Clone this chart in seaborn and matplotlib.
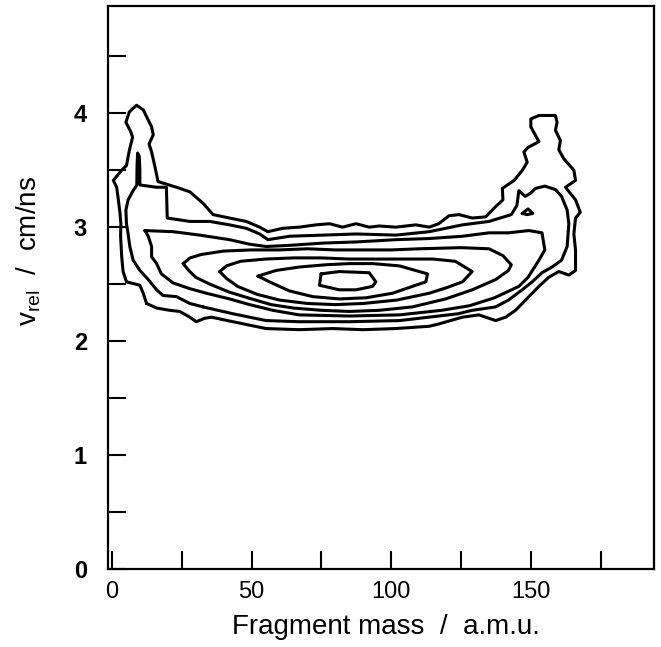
import matplotlib
matplotlib.use("Agg")
import matplotlib.pyplot as plt
import seaborn as sns
import pandas as pd
from matplotlib.ticker import MultipleLocator

# ---- contour lines (x = fragment mass / a.m.u., y = v_rel / cm/ns) ----
level1 = [(12.4,2.33),(11.2,2.42),(10,2.49),(5.2,2.52),(4,2.61),(3.5,2.74),(3.1,2.92),(3.2,3.03),
          (2.9,3.12),(2.3,3.24),(1.7,3.35),(0.5,3.41),(3.5,3.50),(5.2,3.54),(5.8,3.62),(6.4,3.69),
          (7.4,3.79),(6.7,3.84),(5,3.92),(6.2,4.01),(8.8,4.07),(11.2,4.03),(13,3.94),(14.2,3.88),
          (14.8,3.81),(13.3,3.73),(14.2,3.66),(15.4,3.53),(16.5,3.40),(23.1,3.35),(27.9,3.31),
          (32.6,3.21),(36.2,3.11),(42.1,3.08),(48.1,3.05),(52.9,3.00),(55.8,2.96),(61.2,2.99),
          (67.1,3.00),(73.1,3.02),(77.9,3.03),(82.6,3.00),(87.4,3.03),(92.1,3.00),(95.7,3.01),
          (101.7,3.00),(108.8,3.02),(113.6,3.00),(117,3.03),(120.7,3.10),(124.3,3.11),(129,3.08),
          (133.8,3.09),(137.4,3.18),(140,3.24),(139.8,3.34),(144,3.41),(147,3.50),(148.7,3.57),
          (147.5,3.66),(149,3.70),(152.9,3.75),(150,3.88),(150,3.95),(152.9,3.98),(158.8,3.98),
          (159.4,3.92),(158.8,3.85),(160.6,3.76),(160,3.68),(161.8,3.60),(165.4,3.50),(166,3.41),
          (162.4,3.35),(166,3.24),(167.7,3.13),(166,3.08),(165.4,2.94),(166,2.80),(166,2.62),
          (163.6,2.58),(160,2.61),(156.4,2.56),(152.9,2.48),(149.3,2.39),(144.5,2.27),(141,2.21),
          (137.4,2.18),(131.4,2.23),(125.5,2.21),(117,2.15),(113.6,2.13),(101.7,2.11),(89.8,2.10),
          (79,2.11),(67.1,2.10),(55.2,2.11),(43.3,2.17),(35.6,2.21),(33.2,2.20),(30.2,2.17),
          (27.9,2.21),(24.3,2.26),(20.7,2.27),(16,2.29)]

level2 = [(32.6,2.30),(27.9,2.33),(23.1,2.39),(18.3,2.40),(16,2.45),(13,2.54),(10,2.62),(7.6,2.71),
          (6.4,2.83),(5.8,2.94),(5.2,3.03),(5,3.15),(5.8,3.24),(7.6,3.32),(8.9,3.37),(9.0,3.55),
          (9.2,3.65),(9.8,3.62),(10.0,3.50),(10.0,3.37),(16,3.35),(19.5,3.35),(19.8,3.08),
          (27.9,3.05),(35,3.05),(42.1,3.02),(48.1,2.99),(52.9,2.94),(55.8,2.89),(63.6,2.92),
          (75.5,2.93),(87.4,2.94),(101.7,2.93),(113.6,2.96),(125.5,3.02),(135,3.05),(143,3.11),
          (145,3.19),(145.7,3.32),(148,3.27),(150,3.30),(151.7,3.34),(155,3.36),(158.8,3.33),
          (161,3.27),(163,3.15),(163.6,3.03),(163,2.83),(161,2.71),(157.6,2.65),(154,2.60),
          (150.5,2.52),(146.9,2.45),(142,2.36),(137.4,2.30),(129,2.27),(124,2.24),(103,2.18),
          (85,2.17),(67.1,2.17),(55.2,2.18),(43.3,2.24)]

level3 = [(11.8,2.97),(21.9,2.96),(31.4,2.93),(42.1,2.89),(49.3,2.85),(55.2,2.83),(63.6,2.84),
          (75.5,2.86),(87.4,2.87),(101.7,2.89),(113.6,2.90),(125.5,2.92),(135,2.95),(142,2.95),
          (149.3,2.97),(154,2.95),(155,2.80),(152.9,2.71),(149,2.56),(145.7,2.48),(137,2.38),
          (128,2.31),(118,2.27),(103,2.23),(85,2.22),(67,2.23),(57.6,2.27),(49.3,2.32),(42.1,2.37),
          (33.8,2.42),(27.9,2.46),(21.9,2.51),(17.7,2.59),(16,2.68),(14.2,2.74),(14.2,2.83),(13,2.92)]

level4 = [(25.5,2.68),(28,2.73),(32,2.76),(40,2.79),(50,2.80),(60,2.80),(70,2.81),(80,2.80),
          (90,2.80),(100,2.80),(110,2.81),(125,2.82),(135,2.81),(140,2.75),(143,2.67),(142,2.62),
          (137.4,2.54),(129,2.45),(119.5,2.37),(107.6,2.30),(95.7,2.27),(85,2.26),(75,2.27),
          (65,2.29),(57,2.32),(50,2.37),(42,2.43),(35,2.50),(30,2.56),(27.5,2.62)]

level5 = [(38.6,2.61),(41,2.66),(46,2.70),(55,2.72),(65,2.73),(75,2.73),(85,2.72),(95,2.72),
          (105,2.72),(115,2.72),(123,2.70),(129,2.61),(125.5,2.52),(120,2.47),(113.6,2.42),
          (102,2.36),(90,2.33),(80,2.32),(70,2.33),(60,2.36),(52,2.41),(45,2.48),(41,2.55)]

level6 = [(52.3,2.57),(58.8,2.62),(67.1,2.65),(76.7,2.67),(85,2.68),(93.3,2.68),(102.9,2.66),
          (113,2.59),(112.4,2.52),(107.6,2.48),(100.5,2.42),(91,2.38),(81.4,2.37),(71.9,2.39),
          (63.6,2.44),(56.4,2.52)]

level7 = [(74.9,2.59),(81.4,2.61),(92.1,2.60),(94.5,2.52),(93.3,2.48),(87.4,2.45),(81.4,2.45),
          (74.3,2.49)]

island = [(146.9,3.12),(149,3.16),(150.7,3.12),(148.7,3.11)]

x_major = [0, 50, 100, 150]
y_major = [0, 1, 2, 3, 4]
x_label = "Fragment mass  /  a.m.u."
y_label = r"v$_{\rm rel}$  /  cm/ns"

# ---- build a long table: one closed polyline per contour ----
rows = []
for name, pts in [("L1", level1), ("L2", level2), ("L3", level3), ("L4", level4),
                  ("L5", level5), ("L6", level6), ("L7", level7), ("island", island)]:
    closed = pts + [pts[0]]
    for i, (x, y) in enumerate(closed):
        rows.append({"contour": name, "order": i, "mass": x, "vrel": y})
df = pd.DataFrame(rows)

sns.set_style("ticks")
plt.rcParams["font.family"] = ["Liberation Sans", "DejaVu Sans"]
plt.rcParams["mathtext.fontset"] = "custom"
plt.rcParams["mathtext.rm"] = "Liberation Sans"
plt.rcParams["mathtext.it"] = "Liberation Sans"
plt.rcParams["text.color"] = "black"
plt.rcParams["axes.labelcolor"] = "black"
plt.rcParams["xtick.color"] = "black"
plt.rcParams["ytick.color"] = "black"

fig = plt.figure(figsize=(6.61, 6.47), dpi=100)
ax = fig.add_axes([0.163, 0.1206, 0.826, 0.870])

sns.lineplot(data=df, x="mass", y="vrel", units="contour", estimator=None, sort=False,
             color="black", linewidth=2.2, ax=ax, legend=False)

ax.set_xlim(-1.5, 194)
ax.set_ylim(0, 4.94)

ax.xaxis.set_major_locator(plt.FixedLocator(x_major))
ax.xaxis.set_minor_locator(MultipleLocator(25))
ax.yaxis.set_major_locator(plt.FixedLocator(y_major))
ax.yaxis.set_minor_locator(MultipleLocator(0.5))

ax.tick_params(axis="both", which="both", direction="in", length=13, width=1.5,
               top=False, right=False, colors="black")
ax.tick_params(axis="x", which="major", labelsize=17, pad=9)
ax.tick_params(axis="y", which="major", labelsize=17, pad=15)
for lab in ax.get_yticklabels():
    lab.set_fontweight("bold")

for sp in ax.spines.values():
    sp.set_visible(True)
    sp.set_linewidth(1.6)
    sp.set_color("black")

ax.set_xlabel(x_label, fontsize=20, color="black")
ax.set_ylabel(y_label, fontsize=20, color="black")
ax.xaxis.set_label_coords(0.51, -0.08)
ax.yaxis.set_label_coords(-0.118, 0.565)

fig.savefig("out.png", dpi=100)
